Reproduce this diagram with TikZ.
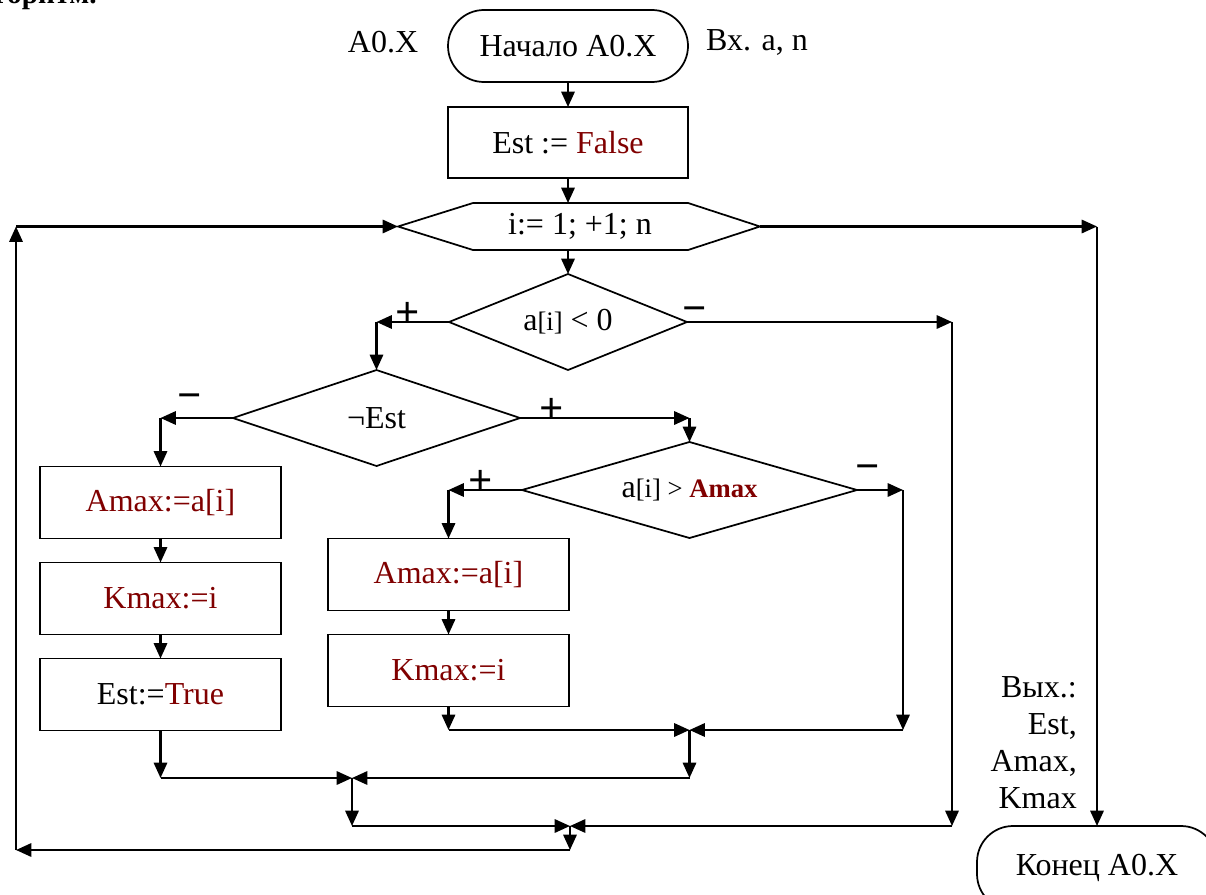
\documentclass[tikz,border=0pt]{standalone}
\usepackage{fontspec}
\setmainfont{Liberation Serif}
\usetikzlibrary{shapes.geometric,arrows.meta}
\definecolor{valred}{RGB}{128,0,0}
\newcommand\idxsz{\fontsize{20pt}{22pt}\selectfont}
\begin{document}
\begin{tikzpicture}[x=0.75pt,y=-0.75pt,
  font=\fontsize{24pt}{27.75pt}\selectfont,
  blk/.style={draw, line width=1.3pt, rectangle, minimum width=180.75pt, minimum height=54pt, inner sep=0pt, outer sep=0pt},
  term/.style={draw, line width=1.3pt, rectangle, rounded corners=27pt, minimum width=180pt, minimum height=54pt, inner sep=0pt, outer sep=0pt},
  cond/.style={draw, line width=1.3pt, diamond, minimum height=72pt, inner sep=0pt, outer sep=0pt},
  flow/.style={line width=1.6pt, -{Triangle[length=11.5pt,width=10pt]}},
  sign/.style={inner sep=0pt, font=\bfseries\fontsize{32pt}{36pt}\selectfont},
  lbl/.style={inner sep=0pt}
]
\useasboundingbox (0,0) rectangle (1206,895);

% heading, cut at the top edge
\node[lbl, anchor=base east, font=\bfseries\fontsize{22pt}{26pt}\selectfont] (title) at (97,4) {Алгоритм.};

% start, initialisation
\node[term] (start) at (568,46) {Начало A0.X};
\node[lbl] (name) at (383,42) {A0.X};
\node[lbl] (inp) at (757,42) {Вх. a, n};
\node[blk, minimum width=180pt, minimum height=53.25pt] (init) at (568,142.5) {Est := \textcolor{valred}{False}};

% loop header (hexagon)
\coordinate (hL) at (398,226.5);
\coordinate (hTL) at (473,203);
\coordinate (hTR) at (688,203);
\coordinate (hR) at (760,226.5);
\coordinate (hBR) at (688,250);
\coordinate (hBL) at (473,250);
\coordinate (hT) at (568,203);
\coordinate (hB) at (568,250);
\draw[line width=1.3pt] (hL) -- (hTL) -- (hTR) -- (hR) -- (hBR) -- (hBL) -- cycle;
\node[lbl] (loop) at (580,226.5) {i:= 1; +1; n};

% conditions
\node[cond, aspect=2.48, minimum width=178.5pt] (c1) at (568,322) {a{\idxsz[i]} < 0};
\node[cond, aspect=3.0, minimum width=215.25pt] (c2) at (376.5,418) {¬Est};
\node[cond, aspect=3.5, minimum width=251.25pt] (c3) at (689.5,490) {a{\idxsz[i] > \textcolor{valred}{\bfseries Amax}}};

% assignments
\node[blk] (a1) at (160.5,502.5) {\textcolor{valred}{Amax:=a[i]}};
\node[blk] (k1) at (160.5,598.5) {\textcolor{valred}{Kmax:=i}};
\node[blk] (e1) at (160.5,694.5) {Est:=\textcolor{valred}{True}};
\node[blk] (a2) at (448.5,574.5) {\textcolor{valred}{Amax:=a[i]}};
\node[blk] (k2) at (448.5,670.5) {\textcolor{valred}{Kmax:=i}};

% end
\node[term, minimum height=63pt] (end) at (1097,868) {Конец A0.X};
\node[lbl, align=right, anchor=east] (out) at (1077,742.5) {Вых.:\\Est,\\Amax,\\Kmax};

% branch signs
\node[sign] (s1) at (408,314) {+};
\node[sign] (s2) at (695,315) {−};
\node[sign] (s3) at (190,402) {−};
\node[sign] (s4) at (552,410) {+};
\node[sign] (s5) at (481,482) {+};
\node[sign] (s6) at (868,473) {−};

% bends and junctions
\coordinate (p1) at (c2.north |- c1.west);
\coordinate (p2) at (952,322);
\coordinate (p3) at (952,826);
\coordinate (j3) at (570,826);
\coordinate (p4) at (a1.north |- c2.west);
\coordinate (p5) at (c3.north |- c2.east);
\coordinate (j2) at (352,778);
\coordinate (p6) at (e1.south |- j2);
\coordinate (p7) at (a2.north |- c3.west);
\coordinate (j1) at (689.5,730);
\coordinate (p8) at (k2.south |- j1);
\coordinate (p9) at (903,490);
\coordinate (p10) at (903,730);
\coordinate (p11) at (689.5,778);
\coordinate (p12) at (352,826);
\coordinate (p13) at (570,850);
\coordinate (p14) at (16,850);
\coordinate (p15) at (16,226.5);
\coordinate (q1) at (1097,226.5);

% connectors
\draw[flow] (start.south) -- (init.north);
\draw[flow] (init.south) -- (hT);
\draw[flow] (hB) -- (c1.north);
\draw[flow] (c1.west) -- (p1);
\draw[flow] (p1) -- (c2.north);
\draw[flow] (c1.east) -- (p2);
\draw[flow] (p2) -- (p3);
\draw[flow] (p3) -- (j3);
\draw[flow] (c2.west) -- (p4);
\draw[flow] (p4) -- (a1.north);
\draw[flow] (a1.south) -- (k1.north);
\draw[flow] (k1.south) -- (e1.north);
\draw[flow] (e1.south) -- (p6);
\draw[flow] (p6) -- (j2);
\draw[flow] (c2.east) -- (p5);
\draw[flow] (p5) -- (c3.north);
\draw[flow] (c3.west) -- (p7);
\draw[flow] (p7) -- (a2.north);
\draw[flow] (a2.south) -- (k2.north);
\draw[flow] (k2.south) -- (p8);
\draw[flow] (p8) -- (j1);
\draw[flow] (c3.east) -- (p9);
\draw[flow] (p9) -- (p10);
\draw[flow] (p10) -- (j1);
\draw[flow] (j1) -- (p11);
\draw[flow] (p11) -- (j2);
\draw[flow] (j2) -- (p12);
\draw[flow] (p12) -- (j3);
\draw[flow] (j3) -- (p13);
\draw[flow] (p13) -- (p14);
\draw[flow] (p14) -- (p15);
\draw[flow] (p15) -- (hL);
\draw[flow] (hR) -- (q1);
\draw[flow] (q1) -- (end.north);
\end{tikzpicture}
\end{document}
